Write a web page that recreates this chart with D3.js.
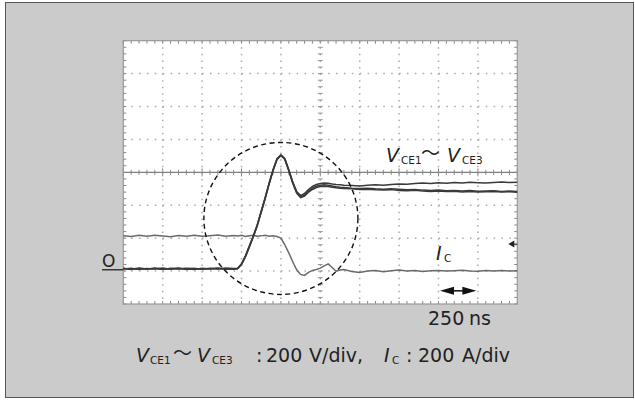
<!DOCTYPE html>
<html><head><meta charset="utf-8">
<script src="https://cdn.jsdelivr.net/npm/d3@7"></script>
<style>
html,body{margin:0;padding:0;background:#fff;}
text{font-family:"DejaVu Sans",sans-serif;fill:#222;}
text.cjk{font-family:"Noto Sans CJK JP",sans-serif;}
</style></head>
<body>
<script>
// time axis (ns), 250 ns/div
const times = [0,50,100,150,200,250,300,350,400,450,500,550,600,650,700,
  725,750,775,800,825,850,875,900,925,950,975,1000,1025,1050,1075,1100,1125,1150,1175,1200,1225,1250,1275,1300,1325,1350,1375,1400,
  1450,1500,1550,1600,1650,1700,1750,1800,1850,1900,1950,2000,2050,2100,2150,2200,2250,2300,2350,2400,2450,2500];
// V_CE traces (V), 200 V/div
const vce1 = [3,-4,2,-3,5,-2,0,4,-5,2,-3,3,-2,4,1,
  2,30,79,140,200,268,350,432,520,602,669,693,669,602,528,470,445,458,482,500,512,518,521,520,515,512,510,508,
  506,503,507,510,508,512,515,513,518,521,519,523,520,524,522,526,523,521,525,527,524,526];
const vce2 = [-2,3,-4,1,-1,4,-3,2,0,-4,3,-1,2,-3,0,
  0,26,72,132,194,262,344,426,514,596,662,688,664,596,520,460,432,442,465,482,494,500,502,500,496,493,490,488,
  486,482,484,480,478,481,476,474,477,472,470,473,469,471,467,470,466,468,470,466,468,465];
const vce3 = [1,-3,4,-2,2,-5,3,-1,3,1,-2,0,4,-1,-3,
  1,28,75,136,197,265,347,429,517,599,665,690,667,599,524,465,438,448,472,490,502,508,510,508,503,499,496,494,
  490,488,490,486,484,487,483,480,482,478,476,479,474,476,472,475,471,473,474,470,472,469];
// I_C trace (A), 200 A/div
const ic = [200,196,203,198,204,199,195,202,198,203,197,201,205,198,202,
  199,203,197,201,204,198,200,203,198,200,196,186,146,97,43,-6,-34,-40,-22,-10,-4,4,18,30,8,-15,-8,-4,
  -16,-22,-14,-10,-18,-12,-8,-14,-10,-16,-12,-10,-14,-12,-9,-13,-15,-11,-13,-10,-14,-12];
const xDivs = d3.range(0, 11);      // 10 horizontal divisions
const yDivs = d3.range(-4, 5);      // 8 vertical divisions
const nsPerDiv = 250, voltsPerDiv = 200, ampsPerDiv = 200;
const zeroDiv = -2.93;              // ground reference level (div)

const W = 635, H = 400;
const svg = d3.select("body").append("svg").attr("width", W).attr("height", H);
svg.append("rect").attr("x",5.5).attr("y",2.5).attr("width",628).attr("height",395)
  .attr("fill","#cbcbcb").attr("stroke","#555").attr("stroke-width",1);

const L = 123.3, R = 517.3, T = 40.7, B = 304;
const x = d3.scaleLinear().domain([0, 10*nsPerDiv]).range([L, R]);
const y = d3.scaleLinear().domain([-4, 4]).range([B, T]);
const divW = (R-L)/10, divH = (B-T)/8;

const g = svg.append("g");
g.append("rect").attr("x",L).attr("y",T).attr("width",R-L).attr("height",B-T).attr("fill","#fff");

// dotted grid
xDivs.slice(1,-1).forEach(d => {
  g.append("line").attr("x1",x(d*nsPerDiv)).attr("x2",x(d*nsPerDiv)).attr("y1",T).attr("y2",B)
   .attr("stroke",d===5?"#999":"#aaa").attr("stroke-width",1.5).attr("stroke-dasharray",`1.5,${divH/5-1.5}`);
});
yDivs.slice(1,-1).forEach(d => {
  if (d === 0) return;
  g.append("line").attr("x1",L).attr("x2",R).attr("y1",y(d)).attr("y2",y(d))
   .attr("stroke","#aaa").attr("stroke-width",1.5).attr("stroke-dasharray",`1.5,${divW/5-1.5}`);
});
// center lines with minor ticks
g.append("line").attr("x1",L).attr("x2",R).attr("y1",y(0)).attr("y2",y(0)).attr("stroke","#808080").attr("stroke-width",1.3);
const minorX = d3.range(0, 51).map(i => i*nsPerDiv/5);
const minorY = d3.range(-20, 21).map(i => i/5);
minorX.forEach(t => {
  const len = (Math.round(t) % nsPerDiv === 0) ? 4 : 2.5;
  g.append("line").attr("x1",x(t)).attr("x2",x(t)).attr("y1",y(0)-len).attr("y2",y(0)+len).attr("stroke","#888");
  g.append("line").attr("x1",x(t)).attr("x2",x(t)).attr("y1",T).attr("y2",T+3).attr("stroke","#888");
  g.append("line").attr("x1",x(t)).attr("x2",x(t)).attr("y1",B-3).attr("y2",B).attr("stroke","#888");
});
minorY.forEach(v => {
  g.append("line").attr("x1",x(5*nsPerDiv)-2.5).attr("x2",x(5*nsPerDiv)+2.5).attr("y1",y(v)).attr("y2",y(v)).attr("stroke","#999");
  g.append("line").attr("x1",L).attr("x2",L+3).attr("y1",y(v)).attr("y2",y(v)).attr("stroke","#888");
  g.append("line").attr("x1",R-3).attr("x2",R).attr("y1",y(v)).attr("y2",y(v)).attr("stroke","#888");
});
g.append("rect").attr("x",L).attr("y",T).attr("width",R-L).attr("height",B-T).attr("fill","none").attr("stroke","#999").attr("stroke-width",1.2);

// traces
const vLine = d3.line().x((d,i)=>x(times[i])).y(d=>y(d/voltsPerDiv+zeroDiv));
const iLine = d3.line().x((d,i)=>x(times[i])).y(d=>y(d/ampsPerDiv+zeroDiv));
g.append("path").attr("d",iLine(ic)).attr("fill","none").attr("stroke","#6a6a6a").attr("stroke-width",1.5);
[vce1,vce2,vce3].forEach(s => {
  g.append("path").attr("d",vLine(s)).attr("fill","none").attr("stroke","#3a3a3a").attr("stroke-width",1.5);
});

// dashed circle
g.append("ellipse").attr("cx",x(1000)).attr("cy",y(-1.4)).attr("rx",77).attr("ry",76)
  .attr("fill","none").attr("stroke","#111").attr("stroke-width",1.4).attr("stroke-dasharray","5,3.5");

// trigger marker
const ty = y(-2.18);
g.append("path").attr("d",`M${R-9},${ty} L${R-3},${ty-3.5} L${R-3},${ty+3.5} Z`).attr("fill","#222");
g.append("line").attr("x1",R-4).attr("x2",R).attr("y1",ty).attr("y2",ty).attr("stroke","#222");

// 250 ns double arrow (one division)
const ay = y(-3.6), ax1 = x(8*nsPerDiv)+1.5, ax2 = x(9*nsPerDiv)-1.5;
g.append("line").attr("x1",ax1+8).attr("x2",ax2-8).attr("y1",ay).attr("y2",ay).attr("stroke","#111").attr("stroke-width",1.5);
g.append("path").attr("d",`M${ax1},${ay} L${ax1+14},${ay-4} L${ax1+14},${ay+4} Z`).attr("fill","#111");
g.append("path").attr("d",`M${ax2},${ay} L${ax2-14},${ay-4} L${ax2-14},${ay+4} Z`).attr("fill","#111");

// zero marker
svg.append("text").attr("x",102).attr("y",267).attr("font-size",17).text("O");
svg.append("line").attr("x1",102).attr("x2",L).attr("y1",y(zeroDiv)+1).attr("y2",y(zeroDiv)+1).attr("stroke","#222").attr("stroke-width",1.3);

// labels
const labels = [
  {t:"V",x:386,y:162,s:19,it:true},{t:"CE1",x:401,y:164,s:10.5},
  {t:"〜",x:421,y:160,s:19,c:true},
  {t:"V",x:447,y:162,s:19,it:true},{t:"CE3",x:462,y:164,s:10.5},
  {t:"I",x:436,y:260,s:19,it:true},{t:"C",x:444,y:262,s:10.5},
  {t:"250",x:428,y:325,s:19},{t:"ns",x:469,y:325,s:19},
  {t:"V",x:136,y:362,s:19,it:true},{t:"CE1",x:150,y:364,s:10.5},
  {t:"〜",x:173,y:360,s:19,c:true},
  {t:"V",x:197,y:362,s:19,it:true},{t:"CE3",x:212,y:364,s:10.5},
  {t:":",x:256,y:362,s:19},{t:"200",x:266,y:362,s:19},{t:"V/div,",x:309,y:362,s:19},
  {t:"I",x:384,y:362,s:19,it:true},{t:"C",x:392,y:364,s:10.5},
  {t:":",x:406,y:362,s:19},{t:"200",x:418,y:362,s:19},{t:"A/div",x:462,y:362,s:19}
];
labels.forEach(p => {
  svg.append("text").attr("class",p.c?"cjk":null).attr("x",p.x).attr("y",p.y).attr("font-size",p.s)
    .attr("font-style",p.it?"italic":"normal").text(p.t);
});
</script>
</body></html>
